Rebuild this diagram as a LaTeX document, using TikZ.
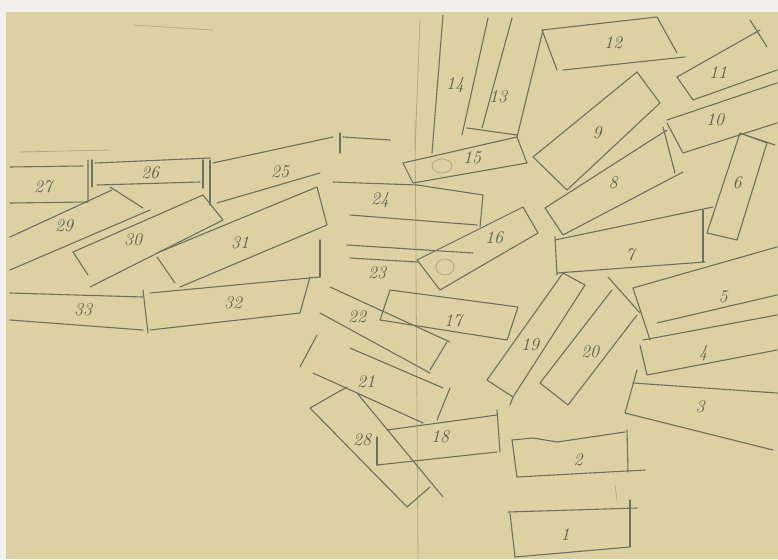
\documentclass[tikz,border=0pt]{standalone}
\usepackage{xcolor}
\usepackage{tikz}
\usetikzlibrary{calc}

\definecolor{paper}{RGB}{221,208,162}
\definecolor{lead}{RGB}{108,113,96}
\definecolor{margin}{RGB}{241,240,236}

\begin{document}
\begin{tikzpicture}[
  x=1pt, y=-1pt,
  pencil/.style={draw=lead, line width=1.1pt, line cap=round, line join=round},
  faint/.style={pencil, draw=lead!40!paper, line width=0.8pt},
  num/.style={text=lead!85!black, font=\fontsize{18}{18}\selectfont\itshape, inner sep=1pt}
]
  \useasboundingbox (0,0) rectangle (778,559);
  \fill[margin] (0,0) rectangle (778,559);
  \fill[paper] (6,12) rectangle (778,559);

  % faint guide strokes
  \draw[faint] (133,25) -- (213,30);
  \draw[faint] (415,120) -- (418,559);
  \draw[faint] (420,20) -- (415,150);
  \draw[faint] (615,485) -- (617,500);

  % left group
  \draw[faint] (20,152) -- (110,150);
  \draw[pencil] (10,167) -- (83,166);
  \draw[pencil] (88,160) -- (88,202) -- (10,203);
  \node[num] (n27) at (43,187) {27};

  \draw[pencil] (92,160) -- (92,187);
  \draw[pencil] (95,163) -- (210,158);
  \draw[pencil] (97,185) -- (200,182);
  \draw[pencil] (203,160) -- (203,188);
  \node[num] (n26) at (150,173) {26};

  \draw[pencil] (213,163) -- (333,137);
  \draw[pencil] (340,133) -- (340,153);
  \draw[pencil] (210,160) -- (210,205);
  \draw[pencil] (217,203) -- (320,173);
  \draw[pencil] (343,137) -- (390,140);
  \node[num] (n25) at (280,172) {25};

  \draw[pencil] (10,237) -- (112,190);
  \draw[pencil] (10,270) -- (150,210);
  \draw[pencil] (110,187) -- (143,208);
  \node[num] (n29) at (64,226) {29};

  \draw[pencil] (73,252) -- (203,195) -- (223,220) -- (90,287);
  \draw[pencil] (73,252) -- (88,275);
  \node[num] (n30) at (133,240) {30};

  \draw[pencil] (157,253) -- (317,187) -- (327,225) -- (180,287);
  \draw[pencil] (157,257) -- (175,283);
  \node[num] (n31) at (240,243) {31};

  \draw[pencil] (10,293) -- (143,297);
  \draw[pencil] (10,320) -- (143,330);
  \draw[pencil] (143,290) -- (148,333);
  \node[num] (n33) at (83,310) {33};

  \draw[pencil] (150,293) -- (320,277);
  \draw[pencil] (150,330) -- (300,313);
  \draw[pencil] (310,277) -- (300,313);
  \draw[pencil] (320,240) -- (320,277);
  \node[num] (n32) at (233,303) {32};

  % centre
  \draw[pencil] (443,15) -- (432,153);
  \draw[pencil] (488,18) -- (462,135);
  \draw[pencil] (512,18) -- (482,128);
  \draw[pencil] (543,30) -- (517,137);
  \draw[pencil] (467,128) -- (517,135);
  \node[num] (n14) at (455,85) {14};
  \node[num] (n13) at (498,97) {13};

  \draw[pencil] (403,163) -- (517,137) -- (527,163) -- (413,183) -- cycle;
  \draw[faint] (442,166) ellipse (10 and 7);
  \node[num] (n15) at (472,158) {15};

  \draw[pencil] (333,182) -- (417,185) -- (483,195) -- (480,227);
  \draw[pencil] (350,215) -- (477,225);
  \node[num] (n24) at (380,200) {24};

  \draw[pencil] (347,245) -- (473,253);
  \draw[pencil] (350,258) -- (417,262);
  \node[num] (n23) at (377,273) {23};

  \draw[pencil] (417,260) -- (523,207) -- (538,233) -- (440,290) -- cycle;
  \draw[faint] (445,267) ellipse (9 and 8);
  \node[num] (n16) at (494,238) {16};

  \draw[pencil] (330,287) -- (450,342);
  \draw[pencil] (320,313) -- (430,373);
  \draw[pencil] (447,342) -- (430,370);
  \node[num] (n22) at (357,317) {22};

  \draw[pencil] (390,290) -- (518,307) -- (507,340) -- (380,320) -- cycle;
  \node[num] (n17) at (453,321) {17};

  \draw[pencil] (350,348) -- (443,388);
  \draw[pencil] (313,373) -- (423,423);
  \draw[pencil] (450,388) -- (437,420);
  \draw[pencil] (317,335) -- (300,367);
  \node[num] (n21) at (366,382) {21};

  \draw[pencil] (347,387) -- (310,408) -- (407,507) -- (430,487);
  \draw[pencil] (357,393) -- (443,497);
  \node[num] (n28) at (362,440) {28};

  \draw[pencil] (387,430) -- (497,415);
  \draw[pencil] (497,410) -- (500,452);
  \draw[pencil] (377,465) -- (497,452);
  \draw[pencil] (377,437) -- (377,465);
  \node[num] (n18) at (440,437) {18};

  \draw[pencil] (563,273) -- (487,380) -- (513,397) -- (585,285) -- cycle;
  \draw[pencil] (513,397) -- (510,405);
  \node[num] (n19) at (530,345) {19};

  \draw[pencil] (612,290) -- (540,383) -- (568,405) -- (637,315);
  \node[num] (n20) at (590,352) {20};

  % right group
  \draw[pencil] (557,70) -- (542,30) -- (657,17) -- (677,53);
  \draw[pencil] (563,70) -- (685,57);
  \node[num] (n12) at (613,43) {12};

  \draw[pencil] (637,72) -- (533,157) -- (567,190) -- (660,103) -- cycle;
  \node[num] (n9) at (597,133) {9};

  \draw[pencil] (545,208) -- (667,130);
  \draw[pencil] (663,127) -- (675,173);
  \draw[pencil] (563,235) -- (683,172);
  \draw[pencil] (545,208) -- (563,235);
  \node[num] (n8) at (613,183) {8};

  \draw[pencil] (555,240) -- (713,207);
  \draw[pencil] (703,210) -- (703,262);
  \draw[pencil] (557,273) -- (705,262);
  \draw[pencil] (555,237) -- (557,275);
  \node[num] (n7) at (630,255) {7};

  \draw[pencil] (677,77) -- (760,30);
  \draw[pencil] (750,20) -- (767,47);
  \draw[pencil] (677,77) -- (693,100) -- (777,70);
  \node[num] (n11) at (718,73) {11};

  \draw[pencil] (667,120) -- (777,83);
  \draw[pencil] (667,123) -- (683,153) -- (777,123);
  \node[num] (n10) at (715,120) {10};

  \draw[pencil] (740,133) -- (707,233) -- (737,240) -- (767,143) -- cycle;
  \draw[pencil] (745,135) -- (775,145);
  \node[num] (n6) at (737,183) {6};

  \draw[pencil] (608,277) -- (640,313);
  \draw[pencil] (633,288) -- (777,247);
  \draw[pencil] (633,288) -- (650,340);
  \draw[pencil] (657,323) -- (777,295);
  \node[num] (n5) at (723,297) {5};

  \draw[pencil] (643,340) -- (777,315);
  \draw[pencil] (640,345) -- (647,375) -- (777,350);
  \node[num] (n4) at (703,353) {4};

  \draw[pencil] (637,370) -- (625,413) -- (773,450);
  \draw[pencil] (633,383) -- (777,393);
  \node[num] (n3) at (700,407) {3};

  % bottom
  \draw[pencil] (512,440) -- (533,438) -- (557,442) -- (625,432);
  \draw[pencil] (627,430) -- (628,472);
  \draw[pencil] (517,477) -- (645,470);
  \draw[pencil] (512,440) -- (517,477);
  \node[num] (n2) at (578,460) {2};

  \draw[pencil] (508,512) -- (637,508);
  \draw[pencil] (630,500) -- (630,547);
  \draw[pencil] (515,557) -- (630,547);
  \draw[pencil] (510,513) -- (515,557);
  \node[num] (n1) at (565,535) {1};
\end{tikzpicture}
\end{document}
